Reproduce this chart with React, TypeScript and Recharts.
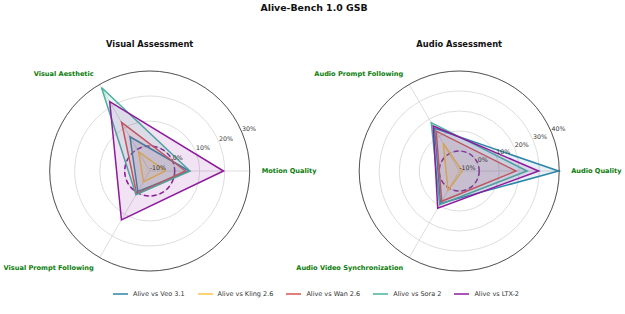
import { PolarAngleAxis, PolarGrid, PolarRadiusAxis, Radar, RadarChart } from "recharts";

// categories listed clockwise from the right-hand axis
const visualAxes = ["Motion Quality", "Visual Prompt Following", "Visual Aesthetic"];
const visualVeo = [5.8, -0.5, 5.8];
const visualKling = [-3.8, -5, -1.1];
const visualWan = [4.3, 0.5, 12.5];
const visualSora = [6.1, 1, 28.6];
const visualLtx = [19.5, 12.6, 22];
const visualTicks = [-10, 0, 10, 20, 30];

const audioAxes = ["Audio Quality", "Audio Video Synchronization", "Audio Prompt Following"];
const audioVeo = [39.7, 8.7, 14.6];
const audioKling = [-8.5, 1.2, 6];
const audioWan = [18.4, 7.5, 13];
const audioSora = [23.9, 9.5, 17.9];
const audioLtx = [29.7, 11.5, 16];
const audioTicks = [-10, 0, 10, 20, 30, 40];

const seriesNames = ["Alive vs Veo 3.1", "Alive vs Kling 2.6", "Alive vs Wan 2.6", "Alive vs Sora 2", "Alive vs LTX-2"];
const seriesKeys = ["veo", "kling", "wan", "sora", "ltx"];
const seriesColors = ["#2E86AB", "#F7C548", "#D9534F", "#45B39D", "#8E1B9E"];

const FONT = "'DejaVu Sans', sans-serif";
const OUTER = 100;

function buildRows(axes: string[], cols: number[][]) {
  return axes.map((axis, i) => {
    const row: Record<string, string | number> = { axis };
    seriesKeys.forEach((k, j) => {
      row[k] = cols[j][i];
    });
    return row;
  });
}

const visualData = buildRows(visualAxes, [visualVeo, visualKling, visualWan, visualSora, visualLtx]);
const audioData = buildRows(audioAxes, [audioVeo, audioKling, audioWan, audioSora, audioLtx]);

function AngleTick(props: any) {
  const { x, y, payload, textAnchor } = props;
  return (
    <text
      x={x}
      y={y}
      textAnchor={textAnchor}
      dominantBaseline="central"
      fontFamily={FONT}
      fontSize={6.6}
      fontWeight="bold"
      fill="#0a7d0a"
    >
      {payload.value}
    </text>
  );
}

function RadiusTick(props: any) {
  const { x, y, payload } = props;
  return (
    <text x={x} y={y - 1.5} textAnchor="start" fontFamily={FONT} fontSize={6.3} fill="#333">
      {`${payload.value}%`}
    </text>
  );
}

interface PanelProps {
  title: string;
  data: Record<string, string | number>[];
  ticks: number[];
  left: number;
  width: number;
  cx: number;
}

function Panel({ title, data, ticks, left, width, cx }: PanelProps) {
  const min = ticks[0];
  const max = ticks[ticks.length - 1];
  const zeroR = (OUTER * (0 - min)) / (max - min);
  return (
    <div style={{ position: "absolute", left, top: 0, width, height: 290 }}>
      <div
        style={{
          position: "absolute",
          top: 39,
          left: cx - 150,
          width: 300,
          textAlign: "center",
          fontFamily: FONT,
          fontWeight: "bold",
          fontSize: 8.3,
          color: "#111",
        }}
      >
        {title}
      </div>
      <div style={{ position: "absolute", top: 40, left: 0 }}>
        <RadarChart
          width={width}
          height={250}
          data={data}
          cx={cx}
          cy={131}
          outerRadius={OUTER}
          startAngle={0}
          endAngle={-360}
          margin={{ top: 0, right: 0, bottom: 0, left: 0 }}
        >
          <PolarGrid gridType="circle" stroke="#d4d4d4" strokeWidth={0.8} />
          <PolarGrid
            gridType="circle"
            radialLines={false}
            polarRadius={[zeroR]}
            stroke="#8E1B9E"
            strokeWidth={1.5}
            strokeDasharray="5 3"
          />
          <PolarAngleAxis
            dataKey="axis"
            tick={AngleTick}
            tickSize={12}
            tickLine={false}
            axisLineType="circle"
            axisLine={{ stroke: "#333", strokeWidth: 0.8 }}
          />
          <PolarRadiusAxis
            type="number"
            domain={[min, max]}
            ticks={ticks}
            angle={22.5}
            tick={RadiusTick}
            axisLine={false}
            tickLine={false}
          />
          {seriesKeys.map((k, i) => (
            <Radar
              key={k}
              dataKey={k}
              stroke={seriesColors[i]}
              strokeWidth={1.5}
              fill={seriesColors[i]}
              fillOpacity={0.12}
              isAnimationActive={false}
            />
          ))}
        </RadarChart>
      </div>
    </div>
  );
}

export default function App() {
  return (
    <div
      style={{
        position: "absolute",
        left: 0,
        top: 0,
        width: 625,
        height: 314,
        background: "#fff",
        overflow: "hidden",
      }}
    >
      <div
        style={{
          position: "absolute",
          top: 2,
          left: 0,
          width: 628,
          textAlign: "center",
          fontFamily: FONT,
          fontWeight: "bold",
          fontSize: 9.4,
          color: "#111",
        }}
      >
        Alive-Bench 1.0 GSB
      </div>
      <Panel title="Visual Assessment" data={visualData} ticks={visualTicks} left={0} width={330} cx={149.7} />
      <Panel title="Audio Assessment" data={audioData} ticks={audioTicks} left={290} width={335} cx={169.2} />
      <div
        style={{
          position: "absolute",
          top: 290,
          left: 113,
          display: "flex",
          alignItems: "center",
          fontFamily: FONT,
          fontSize: 6.5,
          color: "#333",
        }}
      >
        {seriesNames.map((name, i) => (
          <div key={name} style={{ display: "flex", alignItems: "center", marginRight: 13 }}>
            <div style={{ width: 15, height: 1.5, background: seriesColors[i], opacity: 0.75, marginRight: 5 }} />
            <span>{name}</span>
          </div>
        ))}
      </div>
    </div>
  );
}
